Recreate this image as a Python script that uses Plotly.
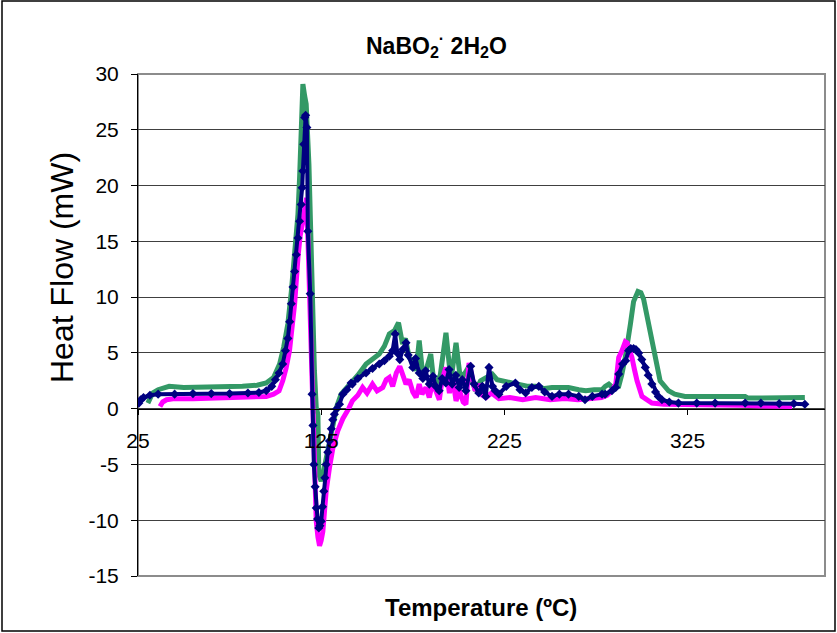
import plotly.graph_objects as go

# ---- data ----
green_T = [30.4, 31.5, 33, 36, 42, 50, 60, 70, 82, 90, 95, 99, 102.3, 104.5, 106.8, 108.7, 110.5, 112.3, 113.2,
           114.1, 115, 116, 116.8, 118.3, 119.6, 121.3, 122.3, 123.2, 123.7, 125, 126.3, 127.7, 129.5, 131.4,
           133.5, 135.9, 138.5, 141.3, 145, 149.5, 153, 156.7, 159.5, 162.2, 165, 167.2, 169.4, 171, 173, 175,
           176.8, 178.5, 180.4, 182.5, 184.8, 186.2, 187.6, 190, 193.1, 195.8, 198.6, 200.5, 202, 204, 205.7,
           207.5, 209.3, 212, 214.8, 218.4, 221, 223.8, 228, 233, 238, 242, 247, 251, 256, 260, 265.6, 269.4,
           274, 278.3, 280, 282, 284, 287.4, 289, 291, 293.8, 295.5, 297.9, 299.5, 301, 303.7, 306.4, 310,
           314.6, 318, 323.6, 340, 356.4, 358, 375, 389]
green_HF = [0.5, 1.0, 1.4, 1.7, 2.0, 1.9, 1.9, 1.9, 2.0, 2.1, 2.3, 2.8, 4.0, 5.5, 7.6, 10.5, 13.5, 17.4, 20.7,
            26.4, 29.1, 28.0, 27.3, 21.9, 12.3, 3.4, 0.1, -0.5, -5.9, -6.5, -5.6, -4.4, -2.7, -1.1,
            0.2, 1.3, 1.8, 2.2, 3.0, 4.0, 4.4, 4.9, 5.6, 6.7, 7.0, 7.7, 5.8, 6.3, 4.6, 4.2,
            3.4, 6.1, 3.1, 3.6, 4.9, 2.8, 2.2, 3.0, 6.8, 2.5, 5.9, 3.3, 2.8, 3.4, 3.8,
            2.4, 1.6, 2.5, 2.8, 3.1, 2.6, 2.5, 2.3, 2.2, 2.0, 2.0, 1.8, 1.9, 1.9, 1.9, 1.7, 1.6,
            1.7, 1.7, 2.0, 2.2, 1.9, 2.0, 3.0, 4.6, 7.6, 9.6, 10.5, 10.4, 9.8, 7.6, 4.9, 2.5,
            1.6, 1.3, 1.1, 1.1, 1.1, 0.95, 0.95, 1.0]

magenta_T = [37, 38.5, 40.6, 45, 55, 69.6, 80, 90, 95, 99, 102, 104, 105.8, 107.7, 109, 110.5, 112.3, 113.5,
             115, 116, 117, 117.8, 118.8, 119.7, 120.4, 121.3, 122.3, 123.2, 124.1, 125, 125.9, 126.8, 127.7,
             129.5, 131.4, 134, 136.8, 140, 142, 145, 147.6, 150, 153, 155.5, 158.6, 160.5, 162.2, 164, 166,
             167.9, 169.5, 171.3, 173, 175, 176.8, 178.5, 180, 182.2, 184, 185.8, 187.6, 189.5, 191, 193.1,
             195, 196.8, 198.6, 200.5, 202.5, 204, 205.7, 207.5, 209, 211, 213, 215, 218, 222, 228, 235, 242,
             250, 258, 265, 272, 278, 281, 283.6, 285.8, 287.4, 289.2, 291, 292, 293.3, 294.6, 296, 297.4,
             300.1, 303, 305.5, 312, 320, 340, 355, 365, 374.5, 382]
magenta_HF = [0.2, 0.6, 0.8, 0.9, 0.9, 0.95, 1.0, 1.05, 1.1, 1.3, 1.6, 2.5, 3.6, 5.2, 7.0, 9.4, 13.5, 15.5,
              16.8, 18.0, 18.9, 15.0, 9.4, 0.7, -0.5, -6.5, -10.1, -11.5, -12.3, -11.8, -11.0, -9.2, -7.4,
              -5.3, -3.5, -2.0, -0.9, 0.0, 0.7, 1.2, 1.9, 1.4, 2.2, 1.6, 1.9, 2.6, 2.8, 2.0, 3.2,
              3.8, 2.9, 2.2, 2.6, 1.5, 1.0, 2.2, 1.3, 1.9, 1.0, 2.4, 1.6, 0.8, 2.6, 3.7,
              1.4, 2.7, 0.7, 1.6, 0.6, 0.4, 4.1, 2.8, 1.6, 2.2, 1.2, 1.0, 1.4, 0.9, 1.0, 0.8, 1.0,
              0.8, 0.9, 0.8, 0.9, 1.0, 1.2, 1.6, 2.2, 4.6, 5.2, 6.0, 5.9, 5.3, 4.6, 3.5, 2.5,
              1.1, 0.7, 0.5, 0.4, 0.4, 0.35, 0.3, 0.25, 0.2, 0.2]

navy_T = [25.5, 26.5, 28, 31.5, 36, 45, 55, 65, 75, 85, 91, 95, 98, 100, 102, 104, 105.5, 106.8, 107.8, 108.7,
          109.6, 110.5, 111.4, 112.3, 113.2, 114.1, 114.6, 115, 115.5, 116, 116.5, 117.2, 117.7, 119, 120,
          120.5, 121, 121.7, 122.3, 123, 123.7, 124.3, 125, 125.7, 126.4, 127, 127.7, 128.6, 129.5, 130.5,
          131.3, 132.2, 133.5, 135, 136.8, 139, 141.3, 142, 145, 149.5, 153, 156.7, 159.5, 162.2, 164, 165.4,
          166.5, 167.9, 169.5, 171.3, 172.5, 175, 176.5, 178.5, 180.5, 182, 184, 186, 187.5, 189.4, 191, 193,
          194.8, 196.5, 198.5, 200.3, 202, 204, 206.6, 208.5, 211, 213, 214.8, 216.6, 218.5, 220, 222, 226,
          231, 233.5, 236.6, 240, 243.8, 247, 251, 255, 260, 265.6, 269, 273, 278.3, 280, 283.7, 285.8,
          287.4, 289.5, 291.2, 292.8, 294, 295.5, 296.8, 298.3, 300, 301.9, 303.5, 305.5, 307.5, 309, 311,
          315, 320, 330, 340, 356.4, 365, 375, 383, 389]
navy_HF = [0.5, 0.8, 1.0, 1.2, 1.3, 1.3, 1.35, 1.35, 1.35, 1.4, 1.45, 1.6, 2.0, 2.6, 3.2, 4.0, 5.2, 6.3, 7.8, 9.4,
           10.9, 12.3, 13.8, 15.3, 16.8, 18.3, 19.8, 21.3, 23.7, 26.1, 26.3, 25.2, 15.9, 10.3, 1.3,
           -1.5, -5.0, -7.0, -8.9, -9.9, -10.7, -10.5, -10.1, -8.8, -7.4, -6.2, -5.0, -3.9, -2.9, -1.8,
           -1.0, -0.5, 0.0, 0.4, 1.3, 1.7, 2.3, 2.2, 2.7, 3.2, 3.6, 4.0, 4.3, 4.7, 5.2, 6.7,
           5.0, 4.4, 5.3, 5.9, 4.8, 3.7, 4.5, 3.2, 2.7, 3.4, 2.2, 2.9, 2.0, 1.6, 2.7, 2.3,
           3.5, 2.2, 3.0, 1.9, 2.6, 1.6, 3.8, 2.2, 1.4, 2.0, 1.1, 3.7, 2.0, 1.6, 1.3, 2.0,
           2.3, 1.7, 1.4, 1.9, 2.0, 1.5, 1.1, 1.3, 1.3, 1.1, 0.8, 1.1, 1.3, 1.3, 1.6, 1.9,
           3.1, 4.0, 4.3, 5.2, 5.4, 5.4, 5.3, 5.0, 4.4, 3.7, 3.0, 2.2, 1.5, 1.1, 0.8,
           0.6, 0.5, 0.5, 0.5, 0.5, 0.5, 0.45, 0.45, 0.4]

x_ticks = [25, 125, 225, 325]
y_ticks = [-15, -10, -5, 0, 5, 10, 15, 20, 25, 30]

FONT = "Liberation Sans, Arial, sans-serif"

fig = go.Figure()
fig.add_trace(go.Scatter(x=green_T, y=green_HF, mode="lines",
                         line=dict(color="#339966", width=5), showlegend=False))
fig.add_trace(go.Scatter(x=magenta_T, y=magenta_HF, mode="lines",
                         line=dict(color="#FF00FF", width=5), showlegend=False))
fig.add_trace(go.Scatter(x=navy_T, y=navy_HF, mode="lines+markers",
                         line=dict(color="#000080", width=4),
                         marker=dict(symbol="diamond", size=7, color="#000080"),
                         showlegend=False))

# pixel-based helpers for placing text
L, R, T, B = 138, 825, 74, 576
def px(x):
    return (x - L) / (R - L)
def py(y):
    return (B - y) / (B - T)

fig.update_layout(
    width=837, height=633,
    margin=dict(l=L, r=837 - R, t=T, b=633 - B),
    paper_bgcolor="white", plot_bgcolor="white",
    font=dict(family=FONT, color="black"),
    xaxis=dict(range=[25, 400], tickvals=x_ticks, ticktext=[str(v) for v in x_ticks],
               anchor="free", position=1/3, showline=True, linecolor="black", linewidth=1,
               ticks="outside", ticklen=5, tickcolor="black", showgrid=False, zeroline=False,
               tickfont=dict(size=21, family=FONT), ticklabelstandoff=8),
    yaxis=dict(range=[-15, 30], tickvals=y_ticks, ticktext=[str(v) for v in y_ticks],
               showline=True, linecolor="black", linewidth=1, ticks="outside", ticklen=6,
               tickcolor="black", showgrid=True, gridcolor="#404040", gridwidth=1, zeroline=False,
               tickfont=dict(size=21, family=FONT), ticklabelstandoff=8),
    shapes=[
        dict(type="rect", xref="paper", yref="paper", x0=0, x1=1, y0=0, y1=1,
             line=dict(color="#8c8c8c", width=2), layer="below"),
        dict(type="rect", xref="paper", yref="paper", x0=px(2), x1=px(835), y0=py(631), y1=py(1),
             line=dict(color="black", width=1.5), layer="below"),
    ],
    annotations=[
        dict(text="<b>NaBO<sub>2</sub><sup>·</sup> 2H<sub>2</sub>O</b>", xref="paper", yref="paper",
             x=px(436), y=py(45), xanchor="center", yanchor="middle", showarrow=False,
             font=dict(size=23, family=FONT)),
        dict(text="<b>Temperature (ºC)</b>", xref="paper", yref="paper",
             x=px(481), y=py(607), xanchor="center", yanchor="middle", showarrow=False,
             font=dict(size=24, family=FONT)),
        dict(text="Heat Flow (mW)", xref="paper", yref="paper", textangle=-90,
             x=px(62), y=py(268), xanchor="center", yanchor="middle", showarrow=False,
             font=dict(size=32, family=FONT)),
    ],
)

fig.write_html("out.html", config={"displayModeBar": False},
               post_script="document.body.style.margin='0px';")
